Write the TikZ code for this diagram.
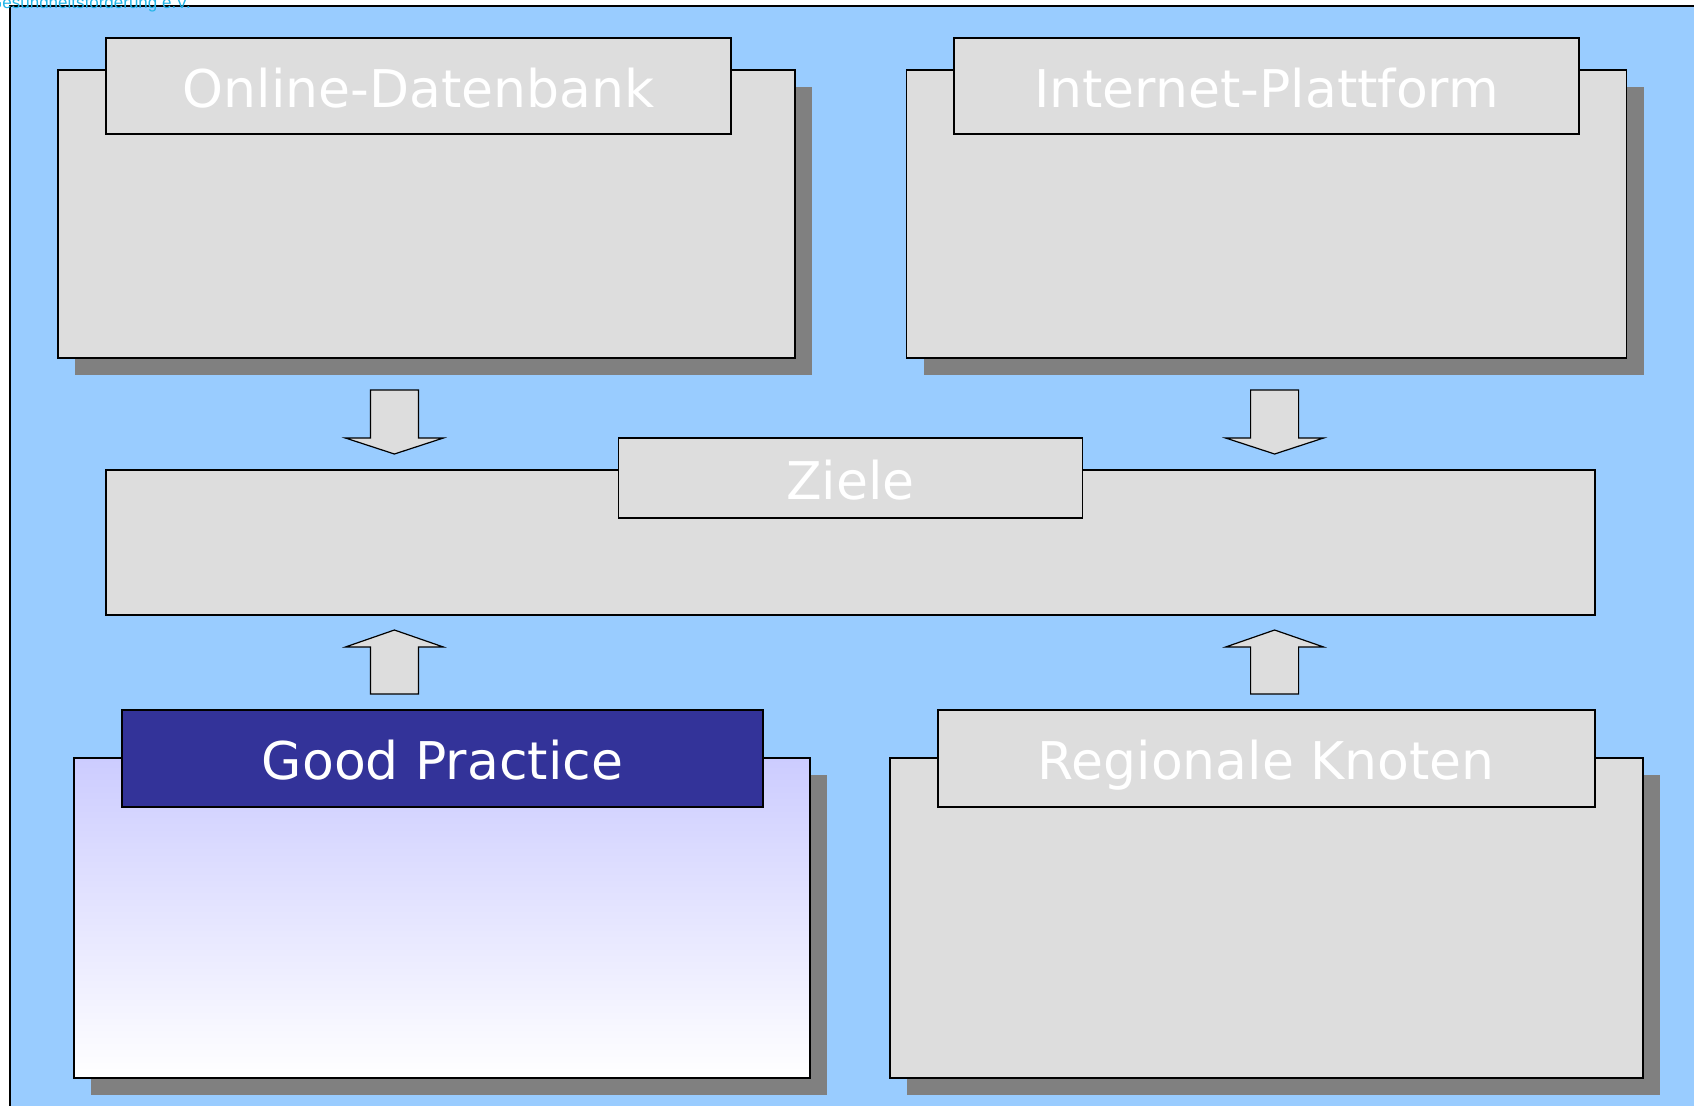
\documentclass[tikz,border=0pt]{standalone}
\usepackage{fontspec}
\usepackage{tikz}
\usetikzlibrary{shadows}
\newfontfamily\boxfont{DejaVu Sans}
\newfontfamily\headfont{Liberation Sans}
\definecolor{bgblue}{HTML}{99CCFF}
\definecolor{boxgray}{HTML}{DDDDDD}
\definecolor{shadowgray}{HTML}{808080}
\definecolor{gpblue}{HTML}{333399}
\definecolor{gplight}{HTML}{CCCCFF}
\definecolor{headcyan}{HTML}{22B4E8}

\begin{document}
\begin{tikzpicture}
  [x=1pt,y=-1pt,
   flatbox/.style={draw,line width=1.5pt,fill=boxgray,inner sep=0pt},
   box/.style={flatbox,
     drop shadow={shadow xshift=17pt,shadow yshift=-17pt,opacity=1,fill=shadowgray}},
   titlebox/.style={flatbox,text=white,
     font=\boxfont\fontsize{52}{60}\selectfont,text height=42pt,text depth=0pt},
   fatarrow/.style={draw,line width=1.2pt,fill=boxgray,line join=miter}]
  \useasboundingbox (0,0) rectangle (1694,1106);
  \fill[bgblue] (10,6) rectangle (1694,1106);
  \draw[line width=2pt] (1694,6) -- (10,6) -- (10,1106);

  \node[box,minimum width=737,minimum height=288] (od) at (426.5,214) {};
  \node[box,minimum width=720,minimum height=288] (ip) at (1266.6,214) {};
  \node[flatbox,minimum width=1489,minimum height=145] (ziele) at (850.3,542.4) {};
  \node[box,minimum width=736,minimum height=320,shading=axis,top color=gplight,bottom color=white] (gp) at (442,918) {};
  \node[box,minimum width=753,minimum height=320] (rk) at (1266.5,918) {};

  \node[titlebox,minimum width=625,minimum height=96] (odtitle) at (418.5,86) {Online-Datenbank};
  \node[titlebox,minimum width=625,minimum height=96] (iptitle) at (1266.5,86) {Internet-Plattform};
  \node[titlebox,minimum width=464,minimum height=80] (zieletitle) at (850.3,478) {Ziele};
  \node[titlebox,minimum width=641,minimum height=97,fill=gpblue] (gptitle) at (442.5,758.5) {Good Practice};
  \node[titlebox,minimum width=657,minimum height=97] (rktitle) at (1266.3,758.5) {Regionale Knoten};

  \foreach \ax in {394.4,1274.6}{
    \draw[fatarrow] (\ax-24,390) -- (\ax+24,390) -- (\ax+24,438) -- (\ax+49,438)
      -- (\ax,454) -- (\ax-49,438) -- (\ax-24,438) -- cycle;
    \draw[fatarrow] (\ax-24,694) -- (\ax+24,694) -- (\ax+24,647) -- (\ax+49,647)
      -- (\ax,630) -- (\ax-49,647) -- (\ax-24,647) -- cycle;
  }

  \node[anchor=base west,inner sep=0pt,text=headcyan,
    font=\headfont\fontsize{17}{19}\selectfont] (head) at (-11,8) {Gesundheitsförderung e.V.};
\end{tikzpicture}
\end{document}
